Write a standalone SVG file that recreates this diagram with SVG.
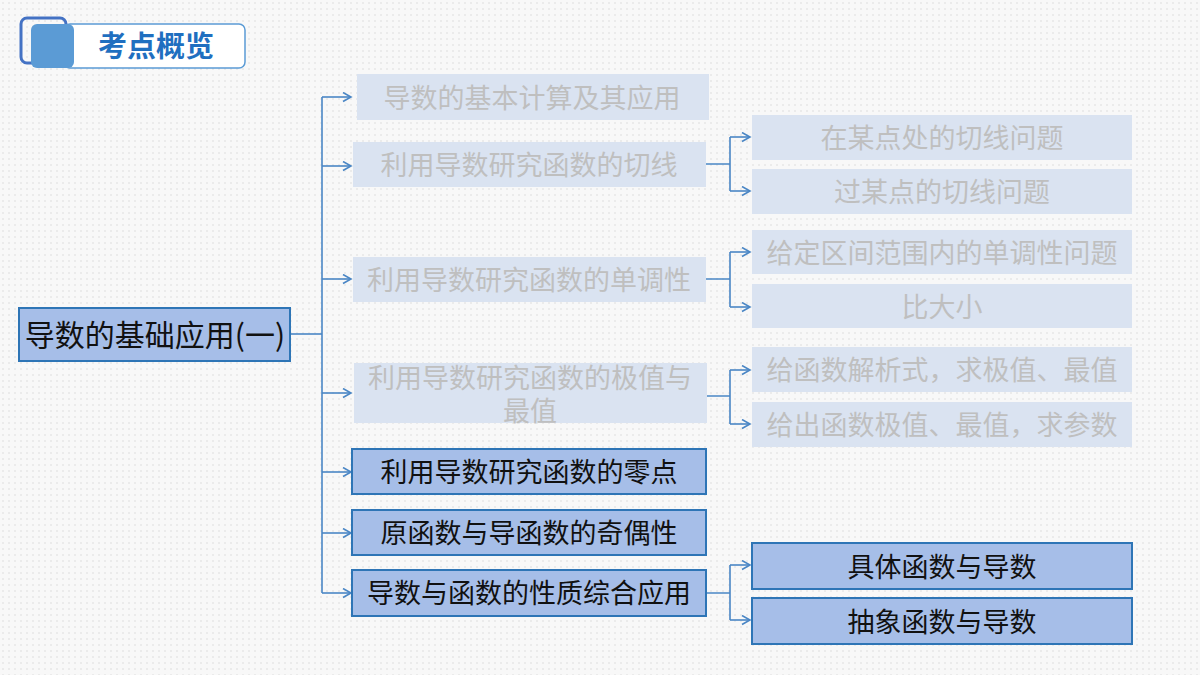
<svg xmlns="http://www.w3.org/2000/svg" width="1200" height="675" viewBox="0 0 1200 675">
<defs>
<pattern id="dots" width="6" height="6" patternUnits="userSpaceOnUse">
<rect width="6" height="6" fill="#F8F8F8"/>
<circle cx="3" cy="3" r="0.7" fill="#D4D4D4"/>
</pattern>
<marker id="arr" markerWidth="12" markerHeight="12" refX="9" refY="5" orient="auto" markerUnits="userSpaceOnUse">
<path d="M1,0.5 L9,5 L1,9.5" fill="none" stroke="#4A86C5" stroke-width="1.6"/>
</marker>
<style>
.t{font-family:"Noto Sans CJK SC","Liberation Sans",sans-serif;font-size:27px;text-anchor:middle;dominant-baseline:central}
.fade rect{fill:#DAE3F1}
.fade text{fill:#BFBFBF}
.act rect{fill:#A6BEE8;stroke:#2E75B6;stroke-width:2}
.act text{fill:#111}
.c{fill:none;stroke:#4A86C5;stroke-width:1.6}
</style>
</defs>
<rect width="1200" height="675" fill="url(#dots)"/>

<g id="title">
<rect x="64" y="24" width="181" height="44" rx="6" fill="#FFFFFF" stroke="#5B9BD5" stroke-width="1.5"/>
<rect x="21" y="18" width="45" height="45" rx="6" fill="none" stroke="#4472C4" stroke-width="3"/>
<rect x="31" y="24" width="43" height="44" rx="6" fill="#5B9BD5"/>
<text x="156" y="44" class="t" style="font-size:29px;font-weight:bold;fill:#1F6FC0">考点概览</text>
</g>

<g id="connectors">
<path class="c" d="M290,334 H322"/>
<path class="c" d="M322,97 V593"/>
<path class="c" d="M322,97 H351" marker-end="url(#arr)"/>
<path class="c" d="M322,166 H351" marker-end="url(#arr)"/>
<path class="c" d="M322,279 H351" marker-end="url(#arr)"/>
<path class="c" d="M322,393 H351" marker-end="url(#arr)"/>
<path class="c" d="M322,472 H351" marker-end="url(#arr)"/>
<path class="c" d="M322,533 H351" marker-end="url(#arr)"/>
<path class="c" d="M322,593 H351" marker-end="url(#arr)"/>
<path class="c" d="M706,164 H730 M730,137 V191"/>
<path class="c" d="M730,137 H750" marker-end="url(#arr)"/>
<path class="c" d="M730,191 H750" marker-end="url(#arr)"/>
<path class="c" d="M706,279 H730 M730,252 V307"/>
<path class="c" d="M730,252 H750" marker-end="url(#arr)"/>
<path class="c" d="M730,307 H750" marker-end="url(#arr)"/>
<path class="c" d="M706,396 H730 M730,370 V424"/>
<path class="c" d="M730,370 H750" marker-end="url(#arr)"/>
<path class="c" d="M730,424 H750" marker-end="url(#arr)"/>
<path class="c" d="M706,593 H730 M730,565 V620"/>
<path class="c" d="M730,565 H750" marker-end="url(#arr)"/>
<path class="c" d="M730,620 H750" marker-end="url(#arr)"/>
</g>

<g id="root" class="act">
<rect x="19" y="308" width="271" height="53"/>
<text x="155" y="333" class="t" style="font-size:30px">导数的基础应用(一)</text>
</g>

<g id="n1" class="fade">
<rect x="357" y="74" width="352" height="46"/>
<text x="532" y="96" class="t">导数的基本计算及其应用</text>
</g>
<g id="n2" class="fade">
<rect x="353" y="142" width="353" height="45"/>
<text x="529" y="163" class="t">利用导数研究函数的切线</text>
</g>
<g id="n3" class="fade">
<rect x="353" y="257" width="353" height="45"/>
<text x="529" y="278" class="t">利用导数研究函数的单调性</text>
</g>
<g id="n4" class="fade">
<rect x="354" y="363" width="353" height="60"/>
<text x="530" y="376" class="t">利用导数研究函数的极值与</text>
<text x="530" y="409" class="t">最值</text>
</g>
<g id="n5" class="act">
<rect x="352" y="449" width="354" height="45"/>
<text x="529" y="470" class="t">利用导数研究函数的零点</text>
</g>
<g id="n6" class="act">
<rect x="352" y="510" width="354" height="45"/>
<text x="529" y="531" class="t">原函数与导函数的奇偶性</text>
</g>
<g id="n7" class="act">
<rect x="352" y="570" width="354" height="46"/>
<text x="529" y="591" class="t">导数与函数的性质综合应用</text>
</g>

<g id="n2a" class="fade">
<rect x="752" y="115" width="380" height="45"/>
<text x="942" y="136" class="t">在某点处的切线问题</text>
</g>
<g id="n2b" class="fade">
<rect x="752" y="169" width="380" height="45"/>
<text x="942" y="190" class="t">过某点的切线问题</text>
</g>
<g id="n3a" class="fade">
<rect x="752" y="230" width="380" height="44"/>
<text x="942" y="251" class="t">给定区间范围内的单调性问题</text>
</g>
<g id="n3b" class="fade">
<rect x="752" y="284" width="380" height="44"/>
<text x="942" y="305" class="t">比大小</text>
</g>
<g id="n4a" class="fade">
<rect x="752" y="347" width="380" height="45"/>
<text x="942" y="368" class="t">给函数解析式，求极值、最值</text>
</g>
<g id="n4b" class="fade">
<rect x="752" y="402" width="380" height="45"/>
<text x="942" y="423" class="t">给出函数极值、最值，求参数</text>
</g>
<g id="n7a" class="act">
<rect x="752" y="543" width="380" height="46"/>
<text x="942" y="565" class="t">具体函数与导数</text>
</g>
<g id="n7b" class="act">
<rect x="752" y="598" width="380" height="46"/>
<text x="942" y="620" class="t">抽象函数与导数</text>
</g>
</svg>
